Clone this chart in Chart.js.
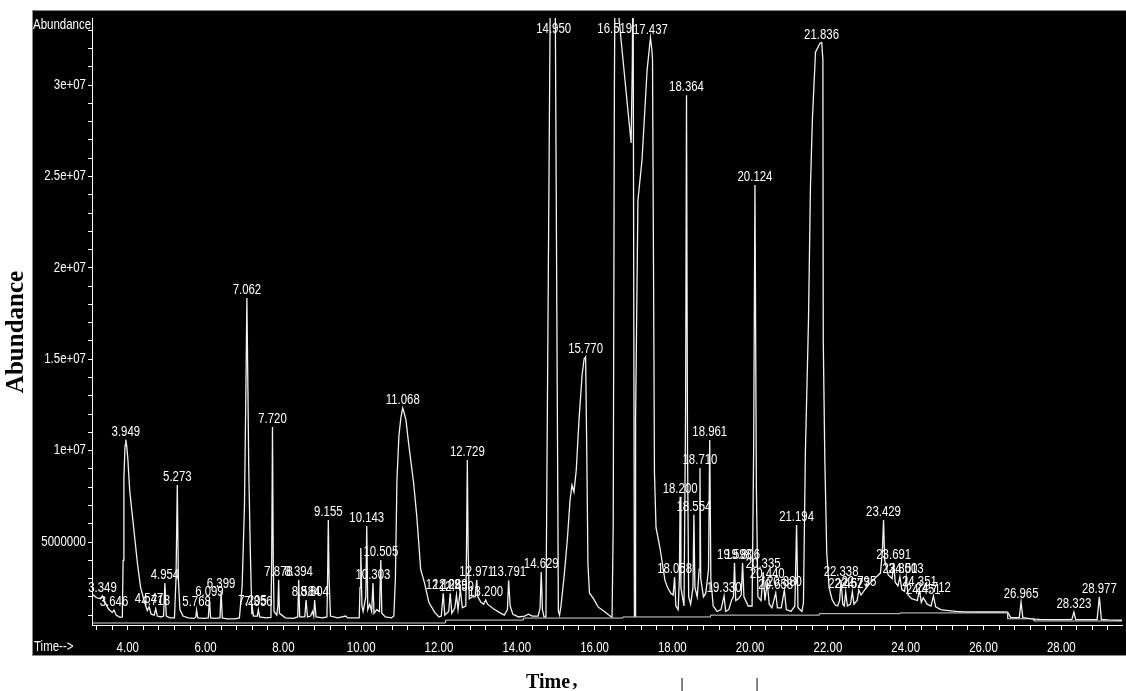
<!DOCTYPE html>
<html>
<head>
<meta charset="utf-8">
<script src="https://cdn.jsdelivr.net/npm/chart.js@4.4.1/dist/chart.umd.min.js"></script>
<style>
  body { margin: 0; background: #fff; }
  canvas { display: block; }
</style>
</head>
<body>
<canvas id="tic" width="1126" height="691"></canvas>
<script>
// retention time (min) and abundance (millions of counts)
const traceTime = [
  3.08, 3.20, 3.30, 3.349, 3.40, 3.50, 3.60, 3.646, 3.70, 3.80,
  3.86, 3.88, 3.90, 3.93, 3.949, 3.97, 4.00, 4.05, 4.13, 4.25,
  4.33, 4.43, 4.50, 4.547, 4.60, 4.68, 4.718, 4.76, 4.85, 4.92,
  4.954, 4.99, 5.08, 5.20, 5.24, 5.273, 5.30, 5.34, 5.42, 5.55,
  5.70, 5.75, 5.768, 5.80, 5.95, 6.07, 6.099, 6.13, 6.25, 6.37,
  6.399, 6.43, 6.55, 6.75, 6.87, 6.94, 7.00, 7.035, 7.062, 7.09,
  7.11, 7.15, 7.19, 7.205, 7.23, 7.33, 7.356, 7.39, 7.55, 7.68,
  7.70, 7.72, 7.74, 7.76, 7.83, 7.86, 7.878, 7.90, 8.05, 8.25,
  8.37, 8.394, 8.42, 8.55, 8.584, 8.62, 8.70, 8.75, 8.78, 8.804,
  8.84, 9.00, 9.12, 9.14, 9.155, 9.175, 9.21, 9.40, 9.60, 9.65,
  9.95, 9.97, 9.99, 10.02, 10.05, 10.12, 10.143, 10.17, 10.22, 10.27,
  10.303, 10.33, 10.40, 10.47, 10.505, 10.53, 10.62, 10.78, 10.84, 10.88,
  10.92, 10.97, 11.02, 11.068, 11.10, 11.15, 11.22, 11.35, 11.43, 11.53,
  11.63, 11.74, 11.89, 12.00, 12.06, 12.109, 12.15, 12.25, 12.289, 12.33,
  12.41, 12.45, 12.49, 12.55, 12.60, 12.69, 12.71, 12.729, 12.75, 12.78,
  12.85, 12.93, 12.971, 13.00, 13.08, 13.15, 13.20, 13.25, 13.40, 13.55,
  13.68, 13.76, 13.791, 13.83, 13.90, 14.05, 14.20, 14.30, 14.40, 14.55,
  14.60, 14.629, 14.66, 14.70, 14.75, 14.86, 14.95, 14.99, 15.07, 15.10,
  15.14, 15.22, 15.30, 15.37, 15.42, 15.47, 15.53, 15.60, 15.68, 15.73,
  15.77, 15.80, 15.83, 15.87, 15.96, 16.09, 16.22, 16.40, 16.45, 16.48,
  16.51, 16.53, 16.60, 16.63, 16.94, 16.97, 16.99, 17.005, 17.025, 17.04,
  17.055, 17.115, 17.22, 17.35, 17.437, 17.47, 17.49, 17.52, 17.54, 17.58,
  17.68, 17.81, 17.88, 17.96, 18.02, 18.058, 18.09, 18.15, 18.18, 18.20,
  18.22, 18.30, 18.34, 18.364, 18.39, 18.42, 18.47, 18.53, 18.554, 18.58,
  18.64, 18.69, 18.71, 18.73, 18.80, 18.86, 18.93, 18.961, 18.99, 19.05,
  19.15, 19.25, 19.33, 19.37, 19.45, 19.52, 19.57, 19.598, 19.63, 19.70,
  19.77, 19.806, 19.84, 19.95, 20.05, 20.09, 20.124, 20.16, 20.20, 20.28,
  20.335, 20.38, 20.44, 20.49, 20.56, 20.658, 20.70, 20.80, 20.88, 20.93,
  21.05, 21.15, 21.194, 21.23, 21.33, 21.37, 21.42, 21.50, 21.55, 21.60,
  21.68, 21.80, 21.84, 21.87, 21.88, 21.92, 21.97, 22.03, 22.11, 22.19,
  22.25, 22.30, 22.338, 22.38, 22.42, 22.457, 22.50, 22.58, 22.627, 22.67,
  22.75, 22.795, 22.85, 22.95, 23.10, 23.25, 23.35, 23.40, 23.429, 23.46,
  23.55, 23.65, 23.691, 23.73, 23.80, 23.85, 23.90, 23.97, 24.013, 24.06,
  24.15, 24.30, 24.351, 24.40, 24.451, 24.55, 24.65, 24.712, 24.77, 24.90,
  25.10, 25.30, 25.50, 25.80, 26.10, 26.50, 26.62, 26.70, 26.92, 26.965,
  27.01, 27.10, 27.30, 27.50, 28.00, 28.27, 28.323, 28.37, 28.60, 28.92,
  28.977, 29.03, 29.20, 29.56
];
const traceAbund = [
  2.15, 1.95, 1.90, 2.05, 1.75, 1.35, 1.15, 1.28, 1.00, 0.88,
  0.90, 4.0, 8.5, 10.3, 10.6, 10.3, 9.6, 7.8, 6.2, 3.8,
  2.5, 1.72, 1.25, 1.45, 1.05, 1.0, 1.35, 0.95, 0.9, 0.95,
  2.76, 0.95, 0.85, 0.85, 3.0, 8.12, 3.0, 1.3, 0.95, 0.85,
  0.82, 0.9, 1.28, 0.85, 0.82, 0.85, 1.83, 0.85, 0.82, 0.85,
  2.27, 0.85, 0.8, 0.8, 0.85, 2.6, 7.0, 13.0, 18.35, 13.0,
  9.0, 4.5, 1.05, 1.35, 0.95, 0.95, 1.3, 0.9, 0.85, 0.88,
  4.0, 11.29, 4.0, 1.2, 1.0, 1.5, 2.92, 1.1, 0.85, 0.82,
  0.9, 2.92, 0.9, 0.9, 1.83, 0.9, 0.95, 1.2, 0.95, 1.83,
  0.9, 0.85, 0.9, 3.5, 6.2, 3.0, 0.95, 0.85, 0.95, 0.85,
  0.85, 2.5, 4.67, 1.5, 1.2, 2.0, 5.88, 1.3, 1.6, 1.2,
  2.76, 1.1, 1.3, 1.2, 4.02, 1.1, 0.9, 0.85, 0.95, 3.0,
  8.4, 10.8, 11.8, 12.33, 12.1, 11.7, 10.4, 8.2, 6.4, 3.5,
  2.75, 1.7, 1.15, 0.9, 0.95, 2.2, 1.0, 1.2, 2.2, 1.1,
  1.4, 2.1, 1.3, 2.4, 1.4, 1.5, 5.0, 9.49, 4.5, 1.9,
  2.0, 2.0, 2.92, 2.0, 1.7, 1.6, 1.83, 1.6, 1.35, 1.15,
  1.0, 1.3, 2.9, 1.5, 1.05, 0.9, 0.95, 1.05, 0.95, 0.95,
  1.4, 3.36, 1.3, 0.9, 0.9, 34.5, 40, 34.5, 1.2, 1.0,
  1.55, 3.19, 5.11, 7.3, 8.12, 7.74, 8.94, 11.67, 14.14, 15.0,
  15.13, 10.0, 3.8, 2.2, 1.94, 1.45, 1.25, 0.95, 0.9, 6.0,
  30.0, 37, 37, 33.6, 26.83, 31, 37, 37, 0.95, 0.95,
  11.7, 23.7, 25.9, 30.8, 32.59, 32.0, 31.4, 18.2, 8.8, 5.8,
  4.7, 2.9, 2.5, 2.2, 2.1, 3.09, 1.5, 1.3, 3.0, 7.47,
  2.5, 1.5, 12.0, 29.45, 10.0, 2.0, 1.6, 2.5, 6.49, 2.5,
  2.0, 3.5, 9.05, 3.0, 2.0, 2.2, 3.5, 10.58, 3.0, 1.5,
  1.2, 1.3, 2.05, 1.2, 1.3, 1.8, 2.0, 3.85, 1.8, 1.9,
  2.1, 3.85, 2.0, 1.5, 1.5, 10.0, 24.53, 8.0, 2.0, 1.8,
  3.36, 1.8, 2.81, 1.6, 1.4, 2.21, 1.4, 1.4, 2.37, 1.3,
  1.2, 1.5, 5.93, 1.4, 1.2, 1.67, 9.84, 17.1, 24.4, 28.1,
  31.8, 32.3, 32.32, 31.4, 16.0, 9.5, 4.4, 2.5, 1.83, 1.55,
  1.5, 1.8, 2.92, 1.6, 1.5, 2.27, 1.5, 1.6, 2.27, 1.6,
  1.8, 2.37, 2.1, 2.4, 2.8, 3.1, 3.3, 4.5, 6.2, 4.0,
  3.2, 3.0, 3.85, 2.8, 2.6, 3.09, 2.4, 2.3, 3.09, 2.1,
  1.9, 1.8, 2.38, 1.7, 1.95, 1.6, 1.5, 2.05, 1.45, 1.3,
  1.25, 1.2, 1.18, 1.17, 1.17, 1.17, 1.16, 0.86, 0.86, 1.72,
  0.86, 0.84, 0.78, 0.75, 0.75, 0.75, 1.17, 0.75, 0.75, 0.76,
  2.0, 0.76, 0.74, 0.72
];

// integration baseline drawn under the trace
const baseTime = [3.08, 12.17, 12.17, 14.17, 14.17, 16.73, 16.73, 18.98, 18.98,
  21.78, 21.78, 23.85, 23.85, 26.62, 26.62, 27.30, 27.30, 29.56];
const baseAbund = [0.57, 0.57, 0.73, 0.73, 0.84, 0.84, 0.9, 0.9, 1.0,
  1.0, 1.08, 1.08, 1.12, 1.12, 0.8, 0.8, 0.68, 0.68];

// labelled peaks: retention time and apex height (millions)
const peakTimes = [3.349, 3.646, 3.949, 4.547, 4.718, 4.954, 5.273, 5.768, 6.099, 6.399, 7.062,
  7.205, 7.356, 7.720, 7.878, 8.394, 8.584, 8.804, 9.155, 10.143, 10.303,
  10.505, 11.068, 12.109, 12.289, 12.450, 12.729, 12.971, 13.200, 13.791, 14.629,
  14.950, 15.770, 16.519, 17.437, 18.058, 18.200, 18.364, 18.554, 18.710, 18.961,
  19.330, 19.598, 19.806, 20.124, 20.335, 20.440, 20.658, 20.880, 21.194, 21.836,
  22.338, 22.457, 22.627, 22.795, 23.429, 23.691, 23.850, 24.013, 24.351, 24.451,
  24.712, 26.965, 28.323, 28.977];
const peakHeights = [2.05, 1.28, 10.6, 1.45, 1.35, 2.76, 8.12, 1.28, 1.83, 2.27, 18.35,
  1.35, 1.3, 11.29, 2.92, 2.92, 1.83, 1.83, 6.2, 5.88, 2.76,
  4.02, 12.33, 2.2, 2.2, 2.1, 9.49, 2.92, 1.83, 2.9, 3.36,
  40, 15.13, 40, 32.59, 3.09, 7.47, 29.45, 6.49, 9.05, 10.58,
  2.05, 3.85, 3.85, 24.53, 3.36, 2.81, 2.21, 2.37, 5.93, 32.32,
  2.92, 2.27, 2.27, 2.37, 6.2, 3.85, 3.09, 3.09, 2.38, 1.95,
  2.05, 1.72, 1.17, 2.0];

const xTickValues = [4, 6, 8, 10, 12, 14, 16, 18, 20, 22, 24, 26, 28];
const yTickValues = [5e6, 1e7, 1.5e7, 2e7, 2.5e7, 3e7];
const yTickLabels = ["5000000", "1e+07", "1.5e+07", "2e+07", "2.5e+07", "3e+07"];

const FONT = "14px 'Liberation Sans', Arial, sans-serif";
const PEAK_FONT = "15px 'Liberation Sans', Arial, sans-serif";

// the instrument font is a condensed sans; squeeze Liberation Sans sideways
function narrowText(ctx, text, x, y, align, baseline, sx) {
  ctx.save();
  ctx.translate(x, y);
  ctx.scale(sx || 0.82, 1);
  ctx.textAlign = align;
  ctx.textBaseline = baseline;
  ctx.fillText(text, 0, 0);
  ctx.restore();
}

const panel = {
  id: "panel",
  beforeDraw(chart) {
    const ctx = chart.ctx;
    ctx.save();
    ctx.fillStyle = "#fff";
    ctx.fillRect(0, 0, 1126, 691);
    ctx.fillStyle = "#000";
    ctx.fillRect(32, 10, 1094, 646);
    ctx.strokeStyle = "#8a8a8a";
    ctx.lineWidth = 1;
    ctx.strokeRect(32.5, 10.5, 1100, 645);
    ctx.restore();
  },
  afterDatasetsDraw(chart) {
    const { ctx, chartArea, scales } = chart;
    ctx.save();
    ctx.fillStyle = "#fff";
    ctx.font = PEAK_FONT;
    peakTimes.forEach((t, i) => {
      const px = scales.x.getPixelForValue(t);
      const h = Math.min(peakHeights[i] * 1e6, scales.y.max);
      const py = Math.max(scales.y.getPixelForValue(h) - 4, chartArea.top + 15);
      narrowText(ctx, t.toFixed(3), px, py, "center", "alphabetic", 0.76);
    });
    ctx.restore();
  },
  afterDraw(chart) {
    const { ctx, scales } = chart;
    ctx.save();
    ctx.fillStyle = "#fff";
    ctx.font = FONT;
    xTickValues.forEach((v) => {
      narrowText(ctx, v.toFixed(2), scales.x.getPixelForValue(v), 652, "center", "alphabetic");
    });
    yTickValues.forEach((v, i) => {
      narrowText(ctx, yTickLabels[i], 86, scales.y.getPixelForValue(v), "right", "middle");
    });
    narrowText(ctx, "Abundance", 33, 29, "left", "alphabetic");
    narrowText(ctx, "Time-->", 34, 651, "left", "alphabetic");

    ctx.fillStyle = "#000";
    ctx.font = "bold 20px 'Liberation Serif', serif";
    ctx.textAlign = "center";
    ctx.fillText("Time", 548, 688);
    ctx.fillText(",", 575, 686);
    ctx.font = "bold 14px 'Liberation Serif', serif";
    ctx.fillText("|", 682, 688);
    ctx.fillText("|", 757, 688);
    ctx.translate(23, 332);
    ctx.rotate(-Math.PI / 2);
    ctx.font = "bold 25px 'Liberation Serif', serif";
    ctx.fillText("Abundance", 0, 0);
    ctx.restore();
  }
};

const config = {
  type: "scatter",
  data: {
    datasets: [
      {
        data: baseTime.map((t, i) => ({ x: t, y: baseAbund[i] * 1e6 })),
        showLine: true,
        borderColor: "#d8d8d8",
        borderWidth: 1,
        pointRadius: 0,
      },
      {
        data: traceTime.map((t, i) => ({ x: t, y: traceAbund[i] * 1e6 })),
        showLine: true,
        borderColor: "#f2f2f2",
        borderWidth: 1.3,
        pointRadius: 0,
      },
    ],
  },
  options: {
    responsive: false,
    animation: false,
    devicePixelRatio: 1,
    events: [],
    layout: { padding: { left: 32, top: 18, right: 4, bottom: 35 } },
    plugins: { legend: { display: false }, tooltip: { enabled: false } },
    scales: {
      x: {
        type: "linear",
        min: 3.08,
        max: 29.56,
        afterFit: (s) => { s.height = 31; },
        afterBuildTicks: (s) => {
          const ticks = [];
          for (let k = 8; k <= 73; k++) ticks.push({ value: k * 0.4 });
          s.ticks = ticks;
        },
        border: { color: "#fff", width: 1 },
        grid: { drawOnChartArea: false, tickLength: 5, tickColor: "#fff" },
        ticks: { display: false },
      },
      y: {
        min: 0.46e6,
        max: 33.67e6,
        afterFit: (s) => { s.width = 60; },
        afterBuildTicks: (s) => {
          const ticks = [];
          for (let k = 1; k <= 33; k++) ticks.push({ value: k * 1e6 });
          s.ticks = ticks;
        },
        border: { color: "#fff", width: 1 },
        grid: { drawOnChartArea: false, tickLength: 4, tickColor: "#fff" },
        ticks: { display: false },
      },
    },
  },
  plugins: [panel],
};

const tic = new Chart(document.getElementById("tic"), config);
</script>
</body>
</html>
